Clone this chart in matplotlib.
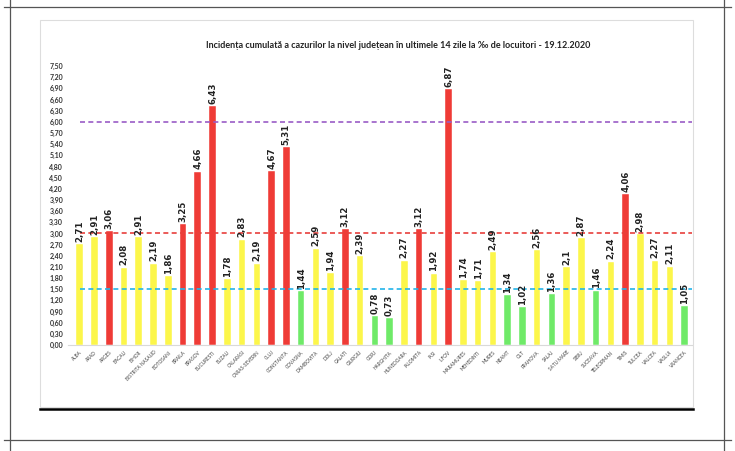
import matplotlib
matplotlib.use("Agg")
import matplotlib.pyplot as plt
from matplotlib.lines import Line2D
from matplotlib.patches import Rectangle

plt.rcParams['font.family'] = ['Lato', 'DejaVu Sans']

judete = [
    "ALBA", "ARAD", "ARGES", "BACAU", "BIHOR", "BISTRITA NASAUD", "BOTOSANI",
    "BRAILA", "BRASOV", "BUCURESTI", "BUZAU", "CALARASI", "CARAS-SEVERIN",
    "CLUJ", "CONSTANTA", "COVASNA", "DAMBOVITA", "DOLJ", "GALATI", "GIURGIU",
    "GORJ", "HARGHITA", "HUNEDOARA", "IALOMITA", "IASI", "ILFOV", "MARAMURES",
    "MEHEDINTI", "MURES", "NEAMT", "OLT", "PRAHOVA", "SALAJ", "SATU MARE",
    "SIBIU", "SUCEAVA", "TELEORMAN", "TIMIS", "TULCEA", "VALCEA", "VASLUI",
    "VRANCEA",
]
incidenta = [
    2.71, 2.91, 3.06, 2.08, 2.91, 2.19, 1.86, 3.25, 4.66, 6.43, 1.78, 2.83,
    2.19, 4.67, 5.31, 1.44, 2.59, 1.94, 3.12, 2.39, 0.78, 0.73, 2.27, 3.12,
    1.92, 6.87, 1.74, 1.71, 2.49, 1.34, 1.02, 2.56, 1.36, 2.1, 2.87, 1.46,
    2.24, 4.06, 2.98, 2.27, 2.11, 1.05,
]
praguri = [1.5, 3.0, 6.0]
culori_prag = ["#22b4ea", "#e8403c", "#9a5cc6"]
y_ticks = [round(i * 0.3, 2) for i in range(26)]


def culoare(v):
    if v > 3:
        return "#ef3b36"
    if v >= 1.5:
        return "#fcf64a"
    return "#6fea68"


fig = plt.figure(figsize=(7.35, 4.51), dpi=100)

# page frame
for xs, ys in [([4 / 735, 731 / 735], [1 - 7 / 451] * 2),
               ([4 / 735, 731 / 735], [1 - 440 / 451] * 2),
               ([10 / 735] * 2, [0, 1]),
               ([724 / 735] * 2, [0, 1])]:
    fig.add_artist(Line2D(xs, ys, color="#555555", lw=0.9))
fig.add_artist(Rectangle((40 / 735, 1 - 407 / 451), 653 / 735, 387 / 451,
                         fill=False, edgecolor="#dddddd", lw=0.8))
fig.add_artist(Line2D([40 / 735, 693 / 735], [1 - 409 / 451] * 2,
                      color="black", lw=1.8))

ax = fig.add_axes([68 / 735, 1 - 345 / 451, 624 / 735, 284.6 / 451])
x = range(len(judete))
ax.bar(x, incidenta, width=0.45, color=[culoare(v) for v in incidenta],
       edgecolor="white", linewidth=0.3, zorder=2)

for p, c in zip(praguri, culori_prag):
    ax.hlines(p, 0, len(judete) - 0.5, colors=c, linestyles=(0, (3, 2)),
              lw=1.2, zorder=3)

for i, v in enumerate(incidenta):
    ax.text(i, v + 0.06, str(v).replace(".", ","), rotation=90,
            ha="center", va="bottom", fontsize=6.2, fontweight="bold",
            color="#222222", family="DejaVu Sans")

ax.set_xlim(-0.8, len(judete) - 0.5)
ax.set_ylim(0, 7.65)
ax.set_yticks(y_ticks)
ax.set_yticklabels([f"{t:.2f}".replace(".", ",") for t in y_ticks],
                   fontsize=5, fontweight="bold", color="#333333")
ax.set_xticks(list(x))
ax.set_xticklabels(judete, rotation=45, ha="right", rotation_mode="anchor",
                   fontsize=3.4, color="#444444")
ax.tick_params(length=0, pad=3.5)
for s in ["top", "right", "left"]:
    ax.spines[s].set_visible(False)
ax.spines["bottom"].set_color("#d9d9d9")

fig.text(398 / 735, 1 - 45 / 451,
         "Incidența cumulată a cazurilor la nivel județean în ultimele 14 zile la ‰ de locuitori - 19.12.2020",
         ha="center", va="center", fontsize=6.5, fontweight="bold",
         color="#222222")

fig.savefig("out.png", dpi=100)
